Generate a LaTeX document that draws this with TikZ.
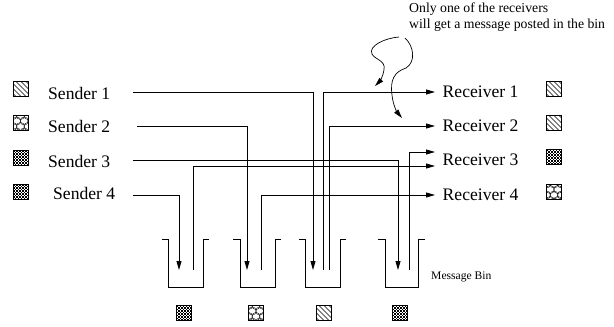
\documentclass[tikz,border=0pt]{standalone}
\usepackage{fontspec}
\setmainfont{Liberation Serif}
\usetikzlibrary{arrows.meta}
\tikzset{
  px/.style={x=1pt,y=-1pt},
  wire/.style={line width=0.8pt},
  arr/.style={wire,-{Triangle[length=9pt,width=5pt]}},
  lbl/.style={inner sep=0pt,anchor=west,font=\fontsize{17.6}{20}\selectfont},
  rlbl/.style={inner xsep=7.5pt,inner ysep=0pt,anchor=west,font=\fontsize{17.6}{20}\selectfont},
  note/.style={inner sep=0pt,anchor=base west,font=\fontsize{13.75}{16}\selectfont},
  small/.style={inner sep=0pt,anchor=base west,font=\fontsize{11.6}{14}\selectfont},
  iconbox/.style={draw,line width=0.6pt,minimum size=15pt,inner sep=0pt},
  binwall/.style={line width=0.8pt},
  pics/diagpat/.style={code={
    \begin{scope}
      \clip (-7.5,-7.5) rectangle (7.5,7.5);
      \foreach \d in {-17.5,-12.5,...,17.5}
        \draw[line width=0.5pt] (\d-9,-9) -- (\d+9,9);
    \end{scope}}},
  pics/checkpat/.style={code={
    \foreach \i in {0,...,9} {
      \pgfmathtruncatemacro\off{mod(\i,2)}
      \foreach \j in {0,2,...,8}
        \fill (-7.5+\i*1.5,-7.5+\j*1.5+\off*1.5) rectangle ++(1.5,1.5);
    }}},
  pics/scalepat/.style={code={
    \begin{scope}
      \clip (-7.5,-7.5) rectangle (7.5,7.5);
      \foreach \r in {0,1,2,3} {
        \pgfmathsetmacro\sh{mod(\r,2)*3.75}
        \foreach \c in {-2,...,2}
          \draw[line width=0.4pt] (\c*7.5+\sh,-7.5+\r*5.5) circle[radius=4.1];
      }
    \end{scope}}},
}
\begin{document}
\begin{tikzpicture}[px]
\useasboundingbox (0,0) rectangle (614,327);

% annotation
\node[note] (ann1) at (409,12.5) {Only one of the receivers};
\node[note] (ann2) at (409,28.5) {will get a message posted in the bin};

% senders
\node[lbl] (s1) at (48,93.5) {Sender 1};
\node[lbl] (s2) at (48,126.5) {Sender 2};
\node[lbl] (s3) at (48,161) {Sender 3};
\node[lbl] (s4) at (53,193.5) {Sender 4};

\pic at (20.5,88.5) {diagpat};  \node[iconbox] (si1) at (20.5,88.5) {};
\pic at (20.5,123) {scalepat};  \node[iconbox] (si2) at (20.5,123) {};
\pic at (20.5,157.5) {checkpat}; \node[iconbox] (si3) at (20.5,157.5) {};
\pic at (20.5,191.5) {checkpat}; \node[iconbox] (si4) at (20.5,191.5) {};

% receivers
\node[rlbl] (r1) at (435,92) {Receiver 1};
\node[rlbl] (r2) at (435,126) {Receiver 2};
\node[rlbl] (r3) at (435,160) {Receiver 3};
\node[rlbl] (r4) at (435,195) {Receiver 4};

\pic at (554,89) {diagpat};     \node[iconbox] (ri1) at (554,89) {};
\pic at (554,123) {diagpat};    \node[iconbox] (ri2) at (554,123) {};
\pic at (554,157) {checkpat};   \node[iconbox] (ri3) at (554,157) {};
\pic at (554,191.5) {scalepat}; \node[iconbox] (ri4) at (554,191.5) {};

% bins
\draw[binwall] (162,239) -- (168,239) -- (168,287) -- (203,287) -- (203,239) -- (209,239);
\draw[binwall] (233,239) -- (240,239) -- (240,287) -- (275,287) -- (275,239) -- (281,239);
\draw[binwall] (299,239) -- (305,239) -- (305,287) -- (340,287) -- (340,239) -- (346,239);
\draw[binwall] (378,239) -- (385,239) -- (385,287) -- (418,287) -- (418,239) -- (425,239);
\node[small] (mb) at (431,279) {Message Bin};

\pic at (184,313) {checkpat}; \node[iconbox] (bi1) at (184,313) {};
\pic at (256,313) {scalepat}; \node[iconbox] (bi2) at (256,313) {};
\pic at (324,313) {diagpat};  \node[iconbox] (bi3) at (324,313) {};
\pic at (400,313) {checkpat}; \node[iconbox] (bi4) at (400,313) {};

% connector end points
\coordinate (s1o) at (133,92);
\coordinate (s2o) at (137,126);
\coordinate (s3o) at (133,160);
\coordinate (s4o) at (133,195);
\coordinate (b1a) at (179,270);
\coordinate (b1b) at (193,270);
\coordinate (b2a) at (247,270);
\coordinate (b2b) at (261,270);
\coordinate (b3a) at (313,270);
\coordinate (b3b) at (323,270);
\coordinate (b3c) at (329,270);
\coordinate (b4a) at (398,270);
\coordinate (b4b) at (409,270);

% sender -> bin
\draw[arr] (s1o) -| (b3a);
\draw[arr] (s2o) -| (b2a);
\draw[arr] (s3o) -| (b4a);
\draw[arr] (s4o) -| (b1a);

% bin -> receiver
\draw[arr] (b3b) |- (r1.west);
\draw[arr] (b3c) |- (r2.west);
\draw[arr] (b4b) |- ([yshift=8pt]r3.west);
\draw[arr] (b1b) |- ([yshift=-6pt]r3.west);
\draw[arr] (b2b) |- (r4.west);

% curly annotation arrows
\coordinate (c1s) at (399,37);
\coordinate (c1e) at (375,86);
\coordinate (c2s) at (405,38);
\coordinate (c2e) at (402,118);
\draw[arr,line width=0.7pt] (c1s) .. controls (385,38) and (368,46) .. (372,54)
  .. controls (375,60) and (386,60) .. (384,70)
  .. controls (383,77) and (379,82) .. (c1e);
\draw[arr,line width=0.7pt] (c2s) .. controls (414,46) and (416,62) .. (406,68)
  .. controls (394,72) and (390,80) .. (392,95)
  .. controls (393,105) and (397,112) .. (c2e);
\end{tikzpicture}
\end{document}
